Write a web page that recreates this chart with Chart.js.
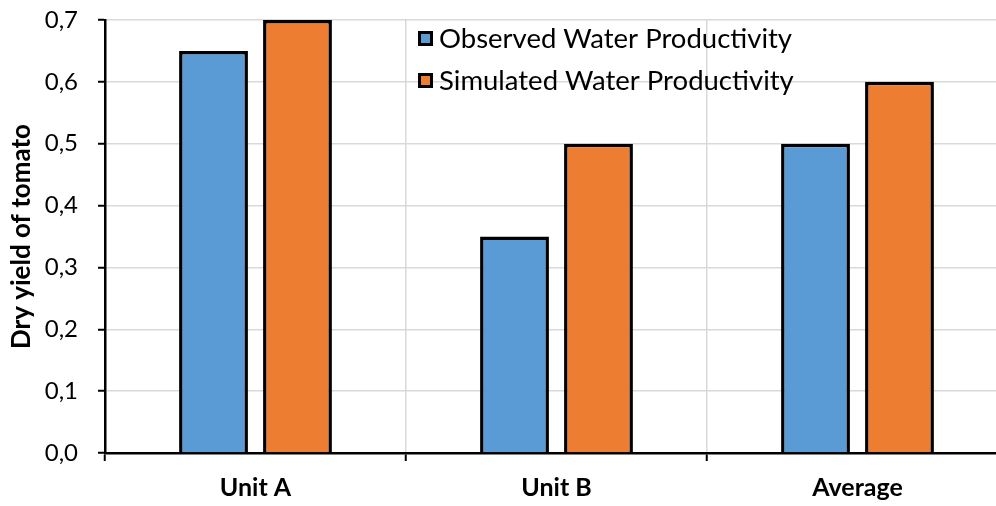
<!DOCTYPE html>
<html>
<head>
<meta charset="utf-8">
<script src="https://cdn.jsdelivr.net/npm/chart.js@4.4.0/dist/chart.umd.min.js"></script>
<style>
  html, body { margin: 0; padding: 0; background: #fff; overflow: hidden; }
  #wrap { width: 1010px; height: 506px; }
</style>
</head>
<body>
<div id="wrap"><canvas id="chart" width="1010" height="506"></canvas></div>
<script>
        // Chart data
        const categories = ['Unit A', 'Unit B', 'Average'];
        const observed = [0.65, 0.35, 0.5];
        const simulated = [0.7, 0.5, 0.6];
        const seriesNames = ['Observed Water Productivity', 'Simulated Water Productivity'];
        const yTicks = [0, 0.1, 0.2, 0.3, 0.4, 0.5, 0.6, 0.7];

        const FONT = 'Lato, "Liberation Sans", sans-serif';

        // Legend drawn inside the plot area
        const innerLegend = {
            id: 'innerLegend',
            afterDraw(chart) {
                const ctx = chart.ctx;
                ctx.save();
                ctx.font = '27.5px ' + FONT;
                ctx.textBaseline = 'middle';
                chart.data.datasets.forEach((ds, i) => {
                    const y = 39 + i * 42;
                    ctx.fillStyle = ds.backgroundColor;
                    ctx.strokeStyle = '#000';
                    ctx.lineWidth = 3;
                    ctx.fillRect(419.5, y - 6.5, 12, 12);
                    ctx.strokeRect(419.5, y - 6.5, 12, 12);
                    ctx.fillStyle = '#000';
                    ctx.fillText(ds.label, 439, y);
                });
                ctx.restore();
            }
        };

        const ctx = document.getElementById('chart').getContext('2d');
        const chart = new Chart(ctx, {
            type: 'bar',
            data: {
                labels: categories,
                datasets: [{
                    label: seriesNames[0],
                    data: observed,
                    backgroundColor: '#5B9BD5',
                    borderColor: '#000',
                    borderWidth: 3.5
                }, {
                    label: seriesNames[1],
                    data: simulated,
                    backgroundColor: '#ED7D31',
                    borderColor: '#000',
                    borderWidth: 3.5
                }]
            },
            options: {
                responsive: false,
                animation: false,
                layout: { padding: { top: 20, right: 2, left: 0, bottom: 0 } },
                datasets: {
                    bar: { categoryPercentage: 0.558, barPercentage: 0.82 }
                },
                scales: {
                    x: {
                        grid: {
                            offset: true,
                            color: '#d9d9d9',
                            lineWidth: 1.5,
                            tickColor: '#000',
                            tickLength: 8,
                            tickWidth: 2
                        },
                        border: { color: '#000', width: 2.5 },
                        ticks: {
                            color: '#000',
                            font: { family: FONT, size: 25, weight: 'bold' },
                            padding: 12,
                            maxRotation: 0
                        },
                        afterFit(scale) {
                            scale.height = 53;
                            scale.paddingLeft = 0;
                            scale.paddingRight = 0;
                        }
                    },
                    y: {
                        min: 0,
                        max: 0.7,
                        afterBuildTicks(scale) {
                            scale.ticks = yTicks.map(v => ({ value: v }));
                        },
                        grid: {
                            color: '#d9d9d9',
                            lineWidth: 1.5,
                            tickColor: '#000',
                            tickLength: 7,
                            tickWidth: 2
                        },
                        border: { color: '#000', width: 2.5 },
                        ticks: {
                            color: '#000',
                            font: { family: FONT, size: 24 },
                            padding: 20,
                            callback: v => v.toFixed(1).replace('.', ',')
                        },
                        title: {
                            display: true,
                            text: 'Dry yield of tomato',
                            color: '#000',
                            font: { family: FONT, size: 26, weight: 'bold' },
                            padding: { top: 6, bottom: 0 }
                        },
                        afterFit(scale) {
                            scale.width = 105;
                            scale.paddingTop = 0;
                            scale.paddingBottom = 0;
                        }
                    }
                },
                plugins: {
                    legend: { display: false },
                    tooltip: { enabled: false }
                }
            },
            plugins: [innerLegend]
        });
</script>
</body>
</html>
